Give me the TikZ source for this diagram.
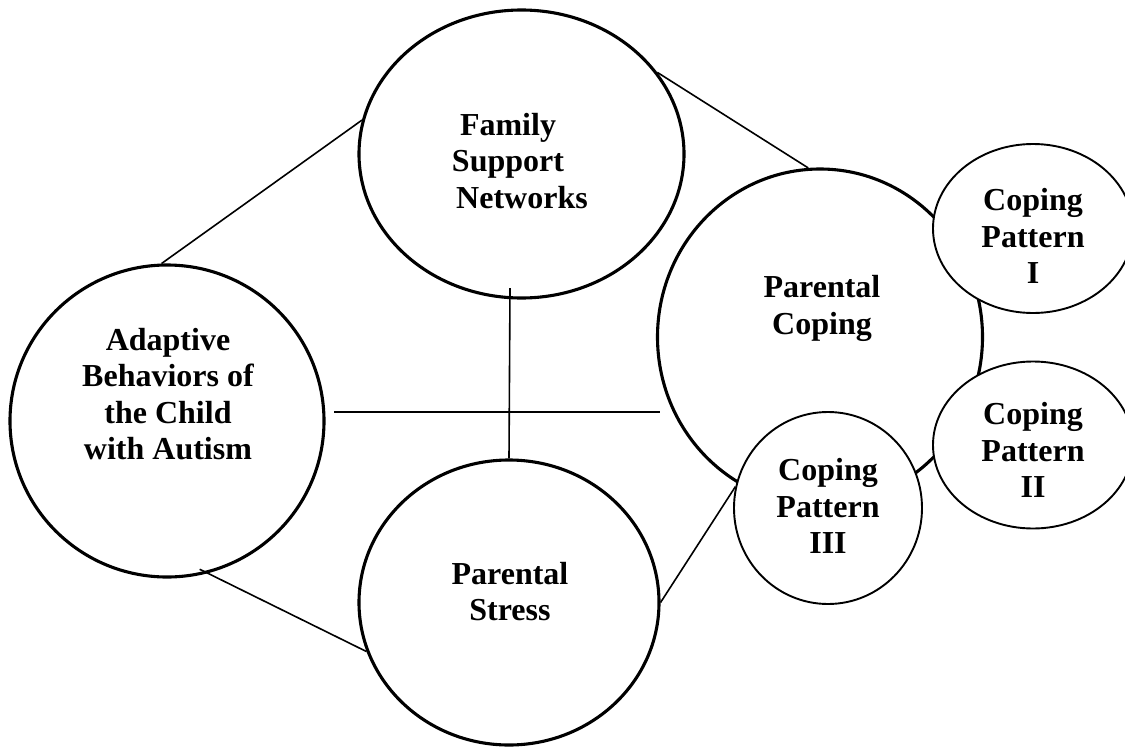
\documentclass[tikz,border=0pt]{standalone}
\usepackage{fontspec}
\setmainfont{Liberation Serif}
\usetikzlibrary{shapes.geometric,calc}
\begin{document}
\begin{tikzpicture}[x=1pt,y=-1pt,
  bigc/.style={ellipse, draw, line width=3.1pt, inner sep=0pt},
  smallc/.style={ellipse, draw, fill=white, line width=1.9pt, inner sep=0pt},
  lbl/.style={align=center, font=\fontsize{32}{36.5}\selectfont\bfseries, inner sep=0pt},
  conn/.style={line width=1.6pt}]
\useasboundingbox (0,0) rectangle (1125,750);
\clip (0,0) rectangle (1125,750);
% circles
\node[bigc, minimum width=314pt, minimum height=312pt] (adapt) at (167,421) {};
\node[bigc, minimum width=325pt, minimum height=288pt] (fam) at (521.5,154) {};
\node[bigc, minimum width=300pt, minimum height=285pt] (stress) at (509,602.5) {};
\node[bigc, minimum width=325pt, minimum height=336pt] (cope) at (820,337) {};
\node[smallc, minimum width=200pt, minimum height=169pt] (cp1) at (1033,228.5) {};
\node[smallc, minimum width=200pt, minimum height=167pt] (cp2) at (1033,445) {};
\node[smallc, minimum width=188pt, minimum height=192pt] (cp3) at (828,508) {};
% labels
\node[lbl] (adaptt) at (168,394) {Adaptive\\Behaviors of\\the Child\\with Autism};
\node[lbl] (famt) at (508,161) {Family\\Support\\\hspace*{28pt}Networks};
\node[lbl] (stresst) at (510,591.5) {Parental\\Stress};
\node[lbl] (copet) at (822,308.5) {Parental\\Coping};
\node[lbl] (cpat) at (1033,236) {Coping\\Pattern\\I};
\node[lbl] (cpbt) at (1033,450) {Coping\\Pattern\\II};
\node[lbl] (cpct) at (828,506) {Coping\\Pattern\\III};
% connectors
\coordinate (vtop) at (510,288);
\coordinate (hL) at (334,412);
\coordinate (hR) at (660,412);
\draw[conn] (adapt.92) -- (fam.168);
\draw[conn] (fam.31) -- (cope.94);
\draw[conn] (vtop) -- (stress.north);
\draw[conn] (hL) -- (hR);
\draw[conn, shorten <=-9pt] (adapt.285) -- (stress.199);
\draw[conn] (stress.east) -- (cp3.167);
\end{tikzpicture}
\end{document}
